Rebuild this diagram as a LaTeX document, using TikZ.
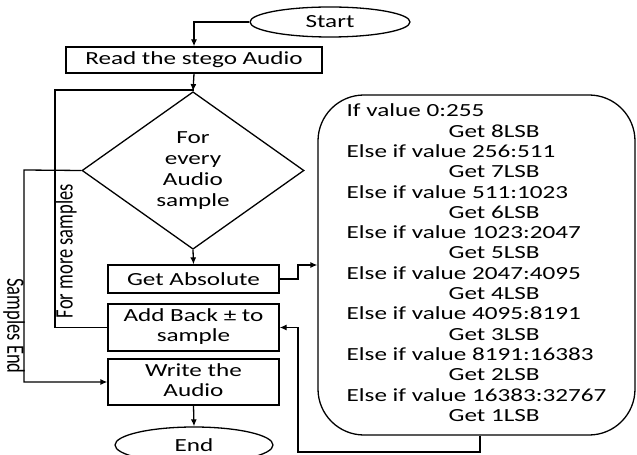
\documentclass[tikz,border=0pt]{standalone}
\usepackage{fontspec}
\setmainfont{Carlito}
\usepackage{graphicx}
\usetikzlibrary{shapes.geometric,arrows.meta}
% text set wide, as in the printed chart
\newcommand{\wide}[1]{\scalebox{1.36}[1]{#1}}
\newcommand{\tall}[1]{\scalebox{1}[1.36]{#1}}
\newcommand{\stack}[1]{\wide{\begin{tabular}{@{}c@{}}#1\end{tabular}}}
\begin{document}
\begin{tikzpicture}[x=1bp,y=-1bp,line width=1.3bp,
  every node/.style={font=\fontsize{18.5bp}{21bp}\selectfont},
  box/.style={draw,rectangle,inner sep=0pt,minimum width=171bp},
  term/.style={draw,ellipse,inner sep=0pt},
  arr/.style={-{Latex[length=7bp,width=6bp]}}]
\useasboundingbox (0,0) rectangle (637,455);
\fill[white] (0,0) rectangle (637,455);
\clip (0,0) rectangle (637,455);

% flow boxes
\node[term,minimum width=160bp,minimum height=30bp] (start) at (330,22) {\wide{Start}};
\node[box,minimum width=256bp,minimum height=26bp] (read) at (194,60) {\wide{Read the stego Audio}};
\node[draw,diamond,inner sep=0pt,minimum width=222bp,minimum height=133bp] (loop) at (193,170.5)
  {\stack{For\\every\\Audio\\sample}};
\node[box,minimum height=28bp] (abs) at (193.5,279) {\wide{Get Absolute}};
\node[box,minimum height=47bp,font=\fontsize{18.5bp}{20bp}\selectfont] (add) at (193.5,327.5) {\stack{Add Back ± to\\sample}};
\node[box,minimum height=46bp,font=\fontsize{18.5bp}{20bp}\selectfont] (write) at (193.5,382) {\stack{Write the\\Audio}};
\node[term,minimum width=158bp,minimum height=36bp] (end) at (194,445) {\wide{End}};

% bit-selection rules
\node[draw,rounded corners=46bp,minimum width=317bp,minimum height=340bp,inner sep=0pt,
  font=\fontsize{18.5bp}{20.3bp}\selectfont] (rules) at (476.5,265)
  {\wide{\begin{tabular}{@{}l@{}}
  If value 0:255\\ \hspace*{75bp}Get 8LSB\\
  Else if value 256:511\\ \hspace*{75bp}Get 7LSB\\
  Else if value 511:1023\\ \hspace*{75bp}Get 6LSB\\
  Else if value 1023:2047\\ \hspace*{75bp}Get 5LSB\\
  Else if value 2047:4095\\ \hspace*{75bp}Get 4LSB\\
  Else if value 4095:8191\\ \hspace*{75bp}Get 3LSB\\
  Else if value 8191:16383\\ \hspace*{75bp}Get 2LSB\\
  Else if value 16383:32767\\ \hspace*{75bp}Get 1LSB
  \end{tabular}}};

% bends of the connectors
\coordinate (loopcorner) at (55,90);
\coordinate (endcorner) at (24,170);
\coordinate (jog) at (298,265);
\coordinate (drop) at (480,452);
\coordinate (ret) at (298,452);

\draw[arr] (start.west) -| (read.north);
\draw[arr] (read.south) -- (loop.north);
\draw (add.west) -| (loopcorner) -- (loopcorner -| read.south);
\draw[arr] (loop.west) -- (endcorner) |- (write.west);
\draw[arr] (loop.south) -- (abs.north);
\draw[arr] (abs.east) -| (jog) -- (jog -| rules.west);
\draw[arr] (drop |- rules.south) -- (drop) -- (ret) |- (add.east);
\draw[arr] (write.south) -- (end.north);

% loop labels
\node[rotate=90] (more) at (66,251) {\tall{For more samples}};
\node[rotate=-90] (done) at (14,326) {\tall{Samples End}};
\end{tikzpicture}
\end{document}
